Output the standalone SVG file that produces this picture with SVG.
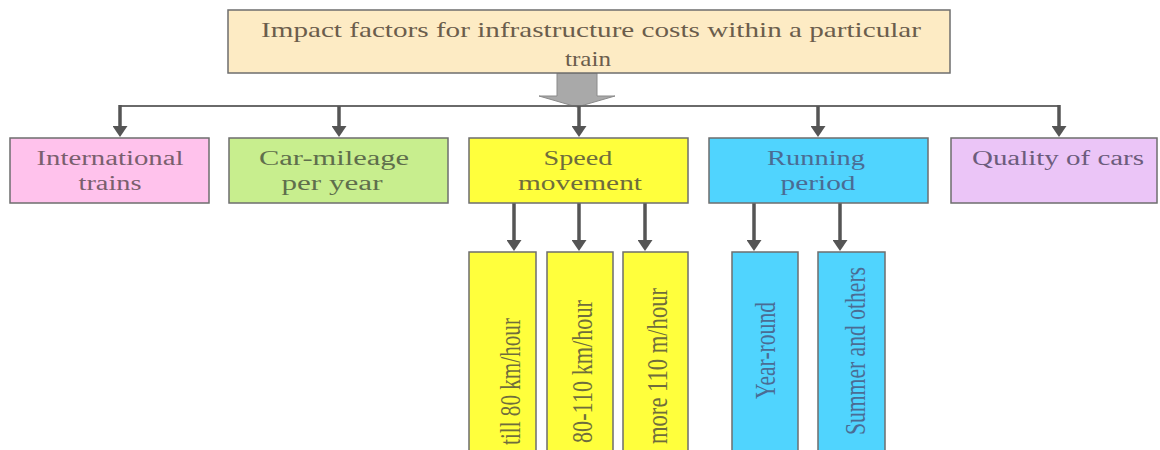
<svg xmlns="http://www.w3.org/2000/svg" width="1160" height="450" viewBox="0 0 1160 450">
<style>
.box{stroke:#6e6e6e;stroke-width:1.5}
.t{font-family:"Liberation Serif","DejaVu Serif","Times New Roman",serif;font-size:20px;text-anchor:middle}
.tt{font-family:"Liberation Serif","DejaVu Serif","Times New Roman",serif;font-size:22px;text-anchor:middle;fill:#6b5d4c}
.v{font-family:"Liberation Serif","DejaVu Serif","Times New Roman",serif;font-size:29px}
.arr{stroke:#555;stroke-width:3.5;fill:none;marker-end:url(#ah)}
</style>
<defs>
<marker id="ah" markerUnits="userSpaceOnUse" markerWidth="11" markerHeight="15" viewBox="0 0 11 15" refX="3" refY="7.5" orient="auto">
<path d="M0,0 L11,7.5 L0,15 Z" fill="#555"/>
</marker>
</defs>
<rect width="1160" height="450" fill="#ffffff"/>

<g id="connectors">
<polygon points="557,73 597,73 597,96 615,96 577,107 539,96 557,96" fill="#a9a9a9" stroke="#8a8a8a" stroke-width="1"/>
<line x1="120" y1="106" x2="1059" y2="106" stroke="#6a6a6a" stroke-width="2"/>
<path class="arr" d="M120,105 V129"/>
<path class="arr" d="M339,106 V129"/>
<path class="arr" d="M579,106 V129"/>
<path class="arr" d="M818,106 V129"/>
<path class="arr" d="M1059,105 V129"/>
<path class="arr" d="M514,203 V243"/>
<path class="arr" d="M579,203 V243"/>
<path class="arr" d="M645,203 V243"/>
<path class="arr" d="M754,203 V243"/>
<path class="arr" d="M840,203 V243"/>
</g>

<g id="root">
<rect class="box" x="228" y="10" width="722" height="63" fill="#fdebc4"/>
<text class="tt" x="591" y="37" textLength="660" lengthAdjust="spacingAndGlyphs">Impact factors for infrastructure costs within a particular</text>
<text class="tt" x="588" y="66" textLength="46" lengthAdjust="spacingAndGlyphs">train</text>
</g>

<g id="international">
<rect class="box" x="10" y="138" width="199" height="65" fill="#ffc2ec"/>
<text class="t" x="110" y="165" fill="#7a5f6e" textLength="147" lengthAdjust="spacingAndGlyphs">International</text>
<text class="t" x="110" y="190" fill="#7a5f6e" textLength="63" lengthAdjust="spacingAndGlyphs">trains</text>
</g>

<g id="carmileage">
<rect class="box" x="229" y="138" width="219" height="65" fill="#c8ee8e"/>
<text class="t" x="334" y="165" fill="#5f6e4c" textLength="150" lengthAdjust="spacingAndGlyphs">Car-mileage</text>
<text class="t" x="332" y="190" fill="#5f6e4c" textLength="101" lengthAdjust="spacingAndGlyphs">per year</text>
</g>

<g id="speed">
<rect class="box" x="469" y="138" width="219" height="65" fill="#ffff3c"/>
<text class="t" x="578" y="165" fill="#6f6d3c" textLength="69" lengthAdjust="spacingAndGlyphs">Speed</text>
<text class="t" x="580" y="190" fill="#6f6d3c" textLength="124" lengthAdjust="spacingAndGlyphs">movement</text>
</g>

<g id="running">
<rect class="box" x="709" y="138" width="219" height="65" fill="#50d4fe"/>
<text class="t" x="816" y="165" fill="#4a6c94" textLength="98" lengthAdjust="spacingAndGlyphs">Running</text>
<text class="t" x="818" y="190" fill="#4a6c94" textLength="75" lengthAdjust="spacingAndGlyphs">period</text>
</g>

<g id="quality">
<rect class="box" x="951" y="138" width="206" height="65" fill="#ebc5f7"/>
<text class="t" x="1058" y="165" fill="#6c5c7c" textLength="172" lengthAdjust="spacingAndGlyphs">Quality of cars</text>
</g>

<g id="till80">
<rect class="box" x="469" y="252" width="67" height="200" fill="#ffff3c"/>
<text class="v" transform="translate(520,445) rotate(-90)" fill="#6f6d3c" textLength="127" lengthAdjust="spacingAndGlyphs">till 80 km/hour</text>
</g>

<g id="s80110">
<rect class="box" x="547" y="252" width="66" height="200" fill="#ffff3c"/>
<text class="v" transform="translate(592,443) rotate(-90)" fill="#6f6d3c" textLength="143" lengthAdjust="spacingAndGlyphs">80-110 km/hour</text>
</g>

<g id="more110">
<rect class="box" x="623" y="252" width="65" height="200" fill="#ffff3c"/>
<text class="v" transform="translate(667,444) rotate(-90)" fill="#6f6d3c" textLength="156" lengthAdjust="spacingAndGlyphs">more 110 m/hour</text>
</g>

<g id="yearround">
<rect class="box" x="732" y="252" width="66" height="200" fill="#50d4fe"/>
<text class="v" transform="translate(775,399) rotate(-90)" fill="#4a6c94" textLength="97" lengthAdjust="spacingAndGlyphs">Year-round</text>
</g>

<g id="summer">
<rect class="box" x="818" y="252" width="67" height="200" fill="#50d4fe"/>
<text class="v" transform="translate(865,435) rotate(-90)" fill="#4a6c94" textLength="168" lengthAdjust="spacingAndGlyphs">Summer and others</text>
</g>
</svg>
